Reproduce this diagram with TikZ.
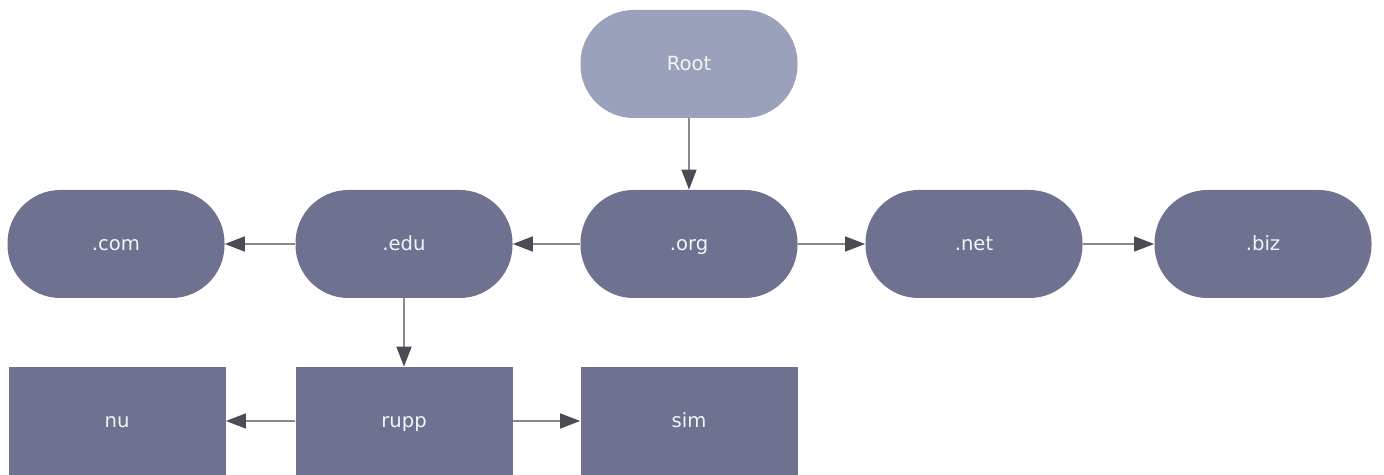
\documentclass[tikz,border=0pt]{standalone}
\usepackage{fontspec}
\setmainfont{DejaVu Sans}
\usetikzlibrary{arrows.meta}
\definecolor{rootfill}{HTML}{9BA1BA}
\definecolor{boxfill}{HTML}{6E718F}
\definecolor{linegray}{HTML}{8A8A8E}
\definecolor{headgray}{HTML}{4A4B55}
\begin{document}
\begin{tikzpicture}[x=0.5pt,y=-0.5pt,
  pill/.style={rectangle, rounded corners=26.5pt, fill=boxfill, text=white!92!boxfill,
    minimum width=108.5pt, minimum height=54pt, text height=1.6ex, text depth=0.4ex,
    inner ysep=0pt, font=\fontsize{9.8}{12}\selectfont},
  leaf/.style={pill, rounded corners=0pt},
  top/.style={pill, fill=rootfill},
  link/.style={draw=linegray, line width=0.8pt,
    -{Triangle[length=10pt,width=7.5pt,color=headgray]}}]
\useasboundingbox (0,0) rectangle (1384,475);
% top level
\node[top] (root) at (689,64) {Root};
% domains
\node[pill] (com) at (116,244) {.com};
\node[pill] (edu) at (404,244) {.edu};
\node[pill] (org) at (689,244) {.org};
\node[pill] (net) at (974,244) {.net};
\node[pill] (biz) at (1263,244) {.biz};
% hosts
\node[leaf] (nu) at (117,421) {nu};
\node[leaf] (rupp) at (404,421) {rupp};
\node[leaf] (sim) at (689,421) {sim};
% links
\draw[link] (root) -- (org);
\draw[link] (org) -- (edu);
\draw[link] (edu) -- (com);
\draw[link] (org) -- (net);
\draw[link] (net) -- (biz);
\draw[link] (edu) -- (rupp);
\draw[link] (rupp) -- (nu);
\draw[link] (rupp) -- (sim);
\end{tikzpicture}
\end{document}
